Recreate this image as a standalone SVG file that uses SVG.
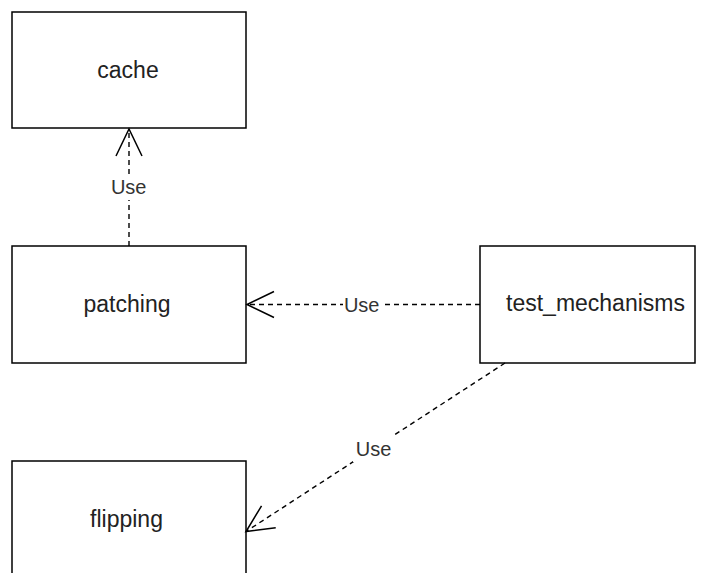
<svg xmlns="http://www.w3.org/2000/svg" width="706" height="573" viewBox="0 0 706 573">
  <style>
    .box { fill: #ffffff; stroke: #000000; stroke-width: 1.5; }
    .name { font-family: "Liberation Sans", Arial, sans-serif; font-size: 23px; fill: #222222; text-anchor: middle; }
    .edge { fill: none; stroke: #000000; stroke-width: 1.4; stroke-dasharray: 5 4; }
    .lbl-bg { fill: #ffffff; }
    .lbl { font-family: "Liberation Sans", Arial, sans-serif; font-size: 20px; fill: #333333; text-anchor: middle; }
  </style>
  <defs>
    <!-- open "use" arrowhead -->
    <marker id="open-arrow" markerUnits="userSpaceOnUse" viewBox="-30 -16 32 32" markerWidth="32" markerHeight="32" refX="0" refY="0" orient="auto" overflow="visible">
      <path d="M -27 -13 L 0 0 L -27 13" fill="none" stroke="#000000" stroke-width="1.5"/>
    </marker>
  </defs>
  <rect width="706" height="573" fill="#ffffff"/>

  <g id="node-cache">
    <rect class="box" x="12" y="12" width="234" height="116"/>
    <text class="name" x="128" y="77.5">cache</text>
  </g>
  <g id="node-patching">
    <rect class="box" x="12" y="246" width="234" height="117"/>
    <text class="name" x="127" y="312">patching</text>
  </g>
  <g id="node-test_mechanisms">
    <rect class="box" x="480" y="246" width="215" height="117"/>
    <text class="name" x="595.5" y="311">test_mechanisms</text>
  </g>
  <g id="node-flipping">
    <rect class="box" x="12" y="461" width="234" height="120"/>
    <text class="name" x="126.5" y="527">flipping</text>
  </g>

  <g id="connectors">
    <g id="edge-patching-cache">
      <line class="edge" x1="129" y1="246" x2="129" y2="129" marker-end="url(#open-arrow)"/>
      <rect class="lbl-bg" x="110" y="177" width="38" height="23"/>
      <text class="lbl" x="128.7" y="194">Use</text>
    </g>
    <g id="edge-test_mechanisms-patching">
      <line class="edge" x1="480" y1="304.5" x2="247" y2="304.5" marker-end="url(#open-arrow)"/>
      <rect class="lbl-bg" x="343" y="294" width="38" height="21"/>
      <text class="lbl" x="361.7" y="311.5">Use</text>
    </g>
    <g id="edge-test_mechanisms-flipping">
      <line class="edge" x1="505" y1="363" x2="246" y2="531.5" marker-end="url(#open-arrow)"/>
      <rect class="lbl-bg" x="353" y="436" width="40" height="26"/>
      <text class="lbl" x="373.5" y="456">Use</text>
    </g>
  </g>
</svg>
